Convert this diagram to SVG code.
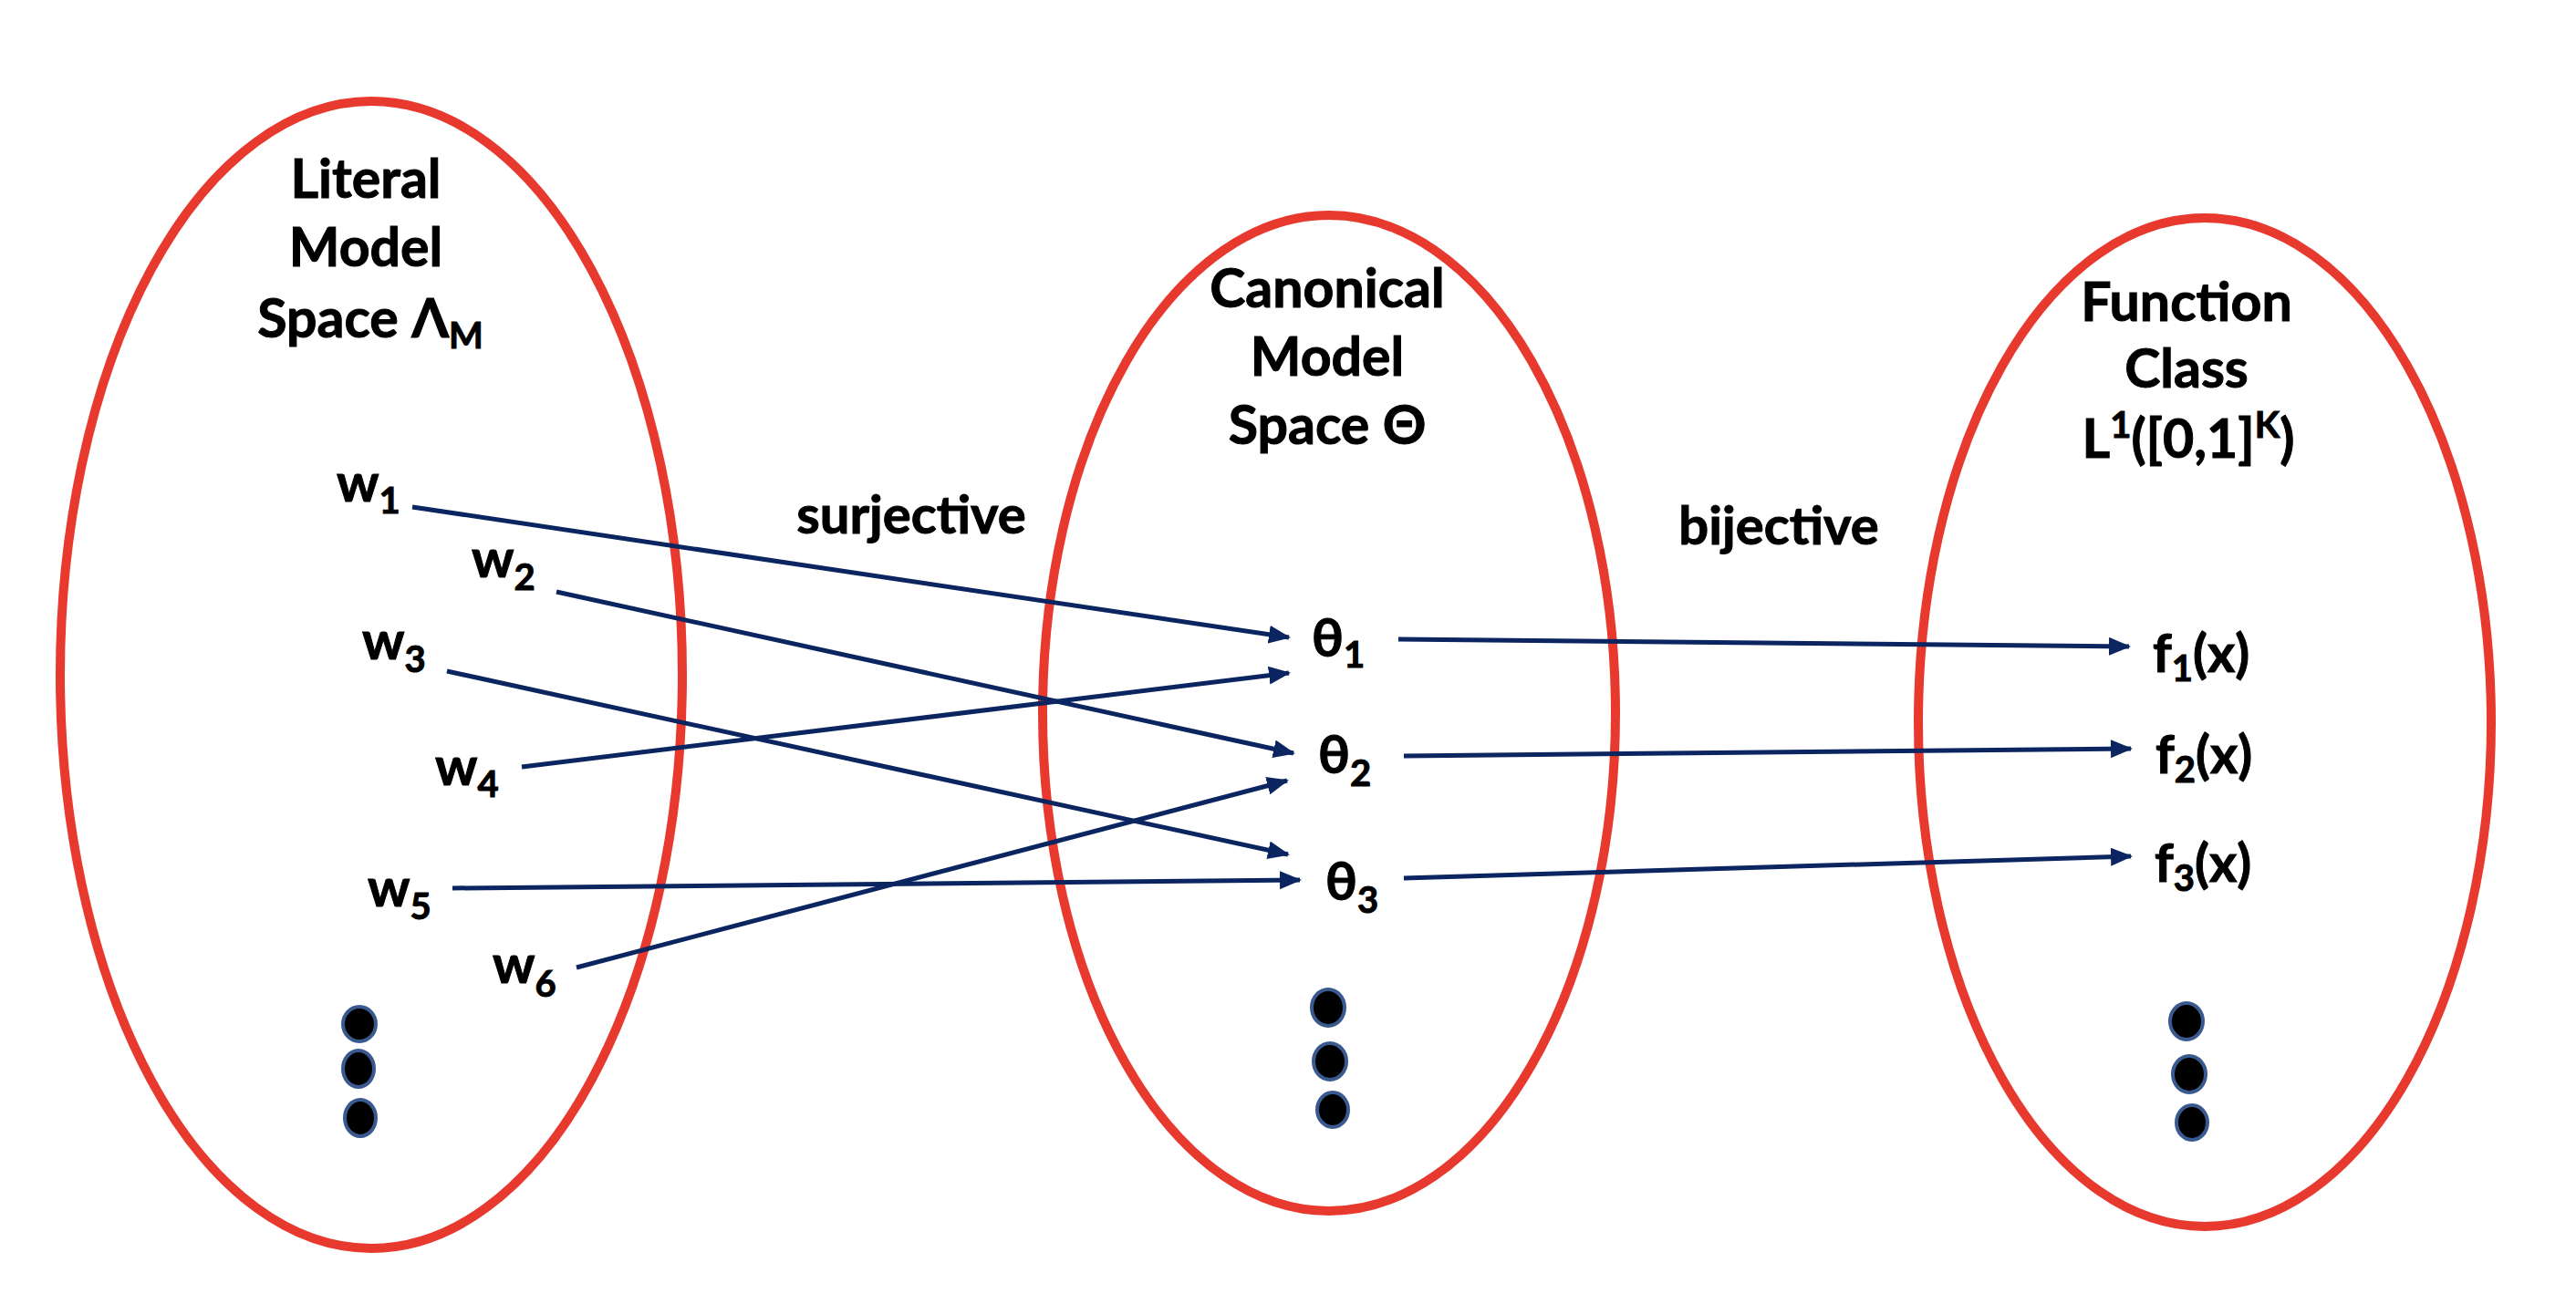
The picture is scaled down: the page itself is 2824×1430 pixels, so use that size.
<svg xmlns="http://www.w3.org/2000/svg" width="2824" height="1430" viewBox="0 0 2824 1430">
<defs>
<style>
.set{fill:none;stroke:#E8392F;stroke-width:10}
.t{font-family:Lato,"Liberation Sans",sans-serif;font-weight:bold;fill:#000;stroke:#000;stroke-width:1}
.title{font-size:59px;text-anchor:middle}
.lab{font-size:58px}
.sub{font-size:40px}
.edge{stroke:#0B2560;stroke-width:5;fill:none;marker-end:url(#ah)}
.dot{fill:#000;stroke:#3A5A8F;stroke-width:4}
</style>
<marker id="ah" markerUnits="userSpaceOnUse" viewBox="0 0 24 20" refX="22" refY="10" markerWidth="24" markerHeight="20" orient="auto">
<path d="M0,0 L24,10 L0,20 Z" fill="#0B2560"/>
</marker>
</defs>
<rect width="2824" height="1430" fill="#fff"/>
<g id="literal-space">
<ellipse class="set" cx="407" cy="740" rx="341" ry="629"/>
<text class="t title" x="401" y="217">Literal</text>
<text class="t title" x="401" y="292">Model</text>
<text class="t title" x="406" y="370">Space Λ<tspan class="sub" dy="12">M</tspan></text>
<ellipse class="dot" cx="394" cy="1123" rx="18" ry="19"/>
<ellipse class="dot" cx="393" cy="1172" rx="17" ry="20"/>
<ellipse class="dot" cx="395" cy="1226" rx="17" ry="20"/>
</g>
<g id="canonical-space">
<ellipse class="set" cx="1457" cy="782" rx="314" ry="546"/>
<text class="t title" x="1455" y="337">Canonical</text>
<text class="t title" x="1455" y="412">Model</text>
<text class="t title" x="1455" y="487">Space Θ</text>
<ellipse class="dot" cx="1456" cy="1105" rx="18" ry="20"/>
<ellipse class="dot" cx="1458" cy="1164" rx="18" ry="20"/>
<ellipse class="dot" cx="1461" cy="1217" rx="17" ry="19"/>
</g>
<g id="function-class">
<ellipse class="set" cx="2417" cy="792" rx="314" ry="553"/>
<text class="t title" x="2397" y="352">Function</text>
<text class="t title" x="2397" y="425">Class</text>
<text class="t title" x="2399" y="502">L<tspan class="sub" dy="-22">1</tspan><tspan dy="22">([0,1]</tspan><tspan class="sub" dy="-22">K</tspan><tspan dy="22">)</tspan></text>
<ellipse class="dot" cx="2397" cy="1120" rx="18" ry="20"/>
<ellipse class="dot" cx="2400" cy="1178" rx="18" ry="20"/>
<ellipse class="dot" cx="2403" cy="1231" rx="17" ry="19"/>
</g>
<g id="w1"><text class="t lab" x="369" y="550">w<tspan class="sub" dy="13">1</tspan></text></g>
<g id="w2"><text class="t lab" x="517" y="633">w<tspan class="sub" dy="14">2</tspan></text></g>
<g id="w3"><text class="t lab" x="397" y="723">w<tspan class="sub" dy="14">3</tspan></text></g>
<g id="w4"><text class="t lab" x="477" y="861">w<tspan class="sub" dy="13">4</tspan></text></g>
<g id="w5"><text class="t lab" x="403" y="994">w<tspan class="sub" dy="14">5</tspan></text></g>
<g id="w6"><text class="t lab" x="540" y="1078">w<tspan class="sub" dy="15">6</tspan></text></g>
<g id="theta1"><text class="t lab" x="1438" y="720">θ<tspan class="sub" dy="12">1</tspan></text></g>
<g id="theta2"><text class="t lab" x="1445" y="848">θ<tspan class="sub" dy="14">2</tspan></text></g>
<g id="theta3"><text class="t lab" x="1453" y="987">θ<tspan class="sub" dy="14">3</tspan></text></g>
<g id="f1"><text class="t lab" x="2360" y="737">f<tspan class="sub" dy="10">1</tspan><tspan dy="-10">(x)</tspan></text></g>
<g id="f2"><text class="t lab" x="2363" y="848">f<tspan class="sub" dy="10">2</tspan><tspan dy="-10">(x)</tspan></text></g>
<g id="f3"><text class="t lab" x="2362" y="967">f<tspan class="sub" dy="10">3</tspan><tspan dy="-10">(x)</tspan></text></g>
<g id="labels">
<text class="t lab" x="999" y="585" text-anchor="middle">surjective</text>
<text class="t lab" x="1950" y="597" text-anchor="middle">bijective</text>
</g>
<g id="connectors">
<line class="edge" x1="452" y1="556" x2="1413" y2="699"/>
<line class="edge" x1="610" y1="649" x2="1418" y2="826"/>
<line class="edge" x1="490" y1="736" x2="1412" y2="937"/>
<line class="edge" x1="572" y1="841" x2="1413" y2="738"/>
<line class="edge" x1="496" y1="974" x2="1425" y2="965"/>
<line class="edge" x1="632" y1="1061" x2="1411" y2="856"/>
<line class="edge" x1="1533" y1="701" x2="2334" y2="709"/>
<line class="edge" x1="1539" y1="829" x2="2336" y2="821"/>
<line class="edge" x1="1539" y1="963" x2="2336" y2="939"/>
</g>
</svg>
